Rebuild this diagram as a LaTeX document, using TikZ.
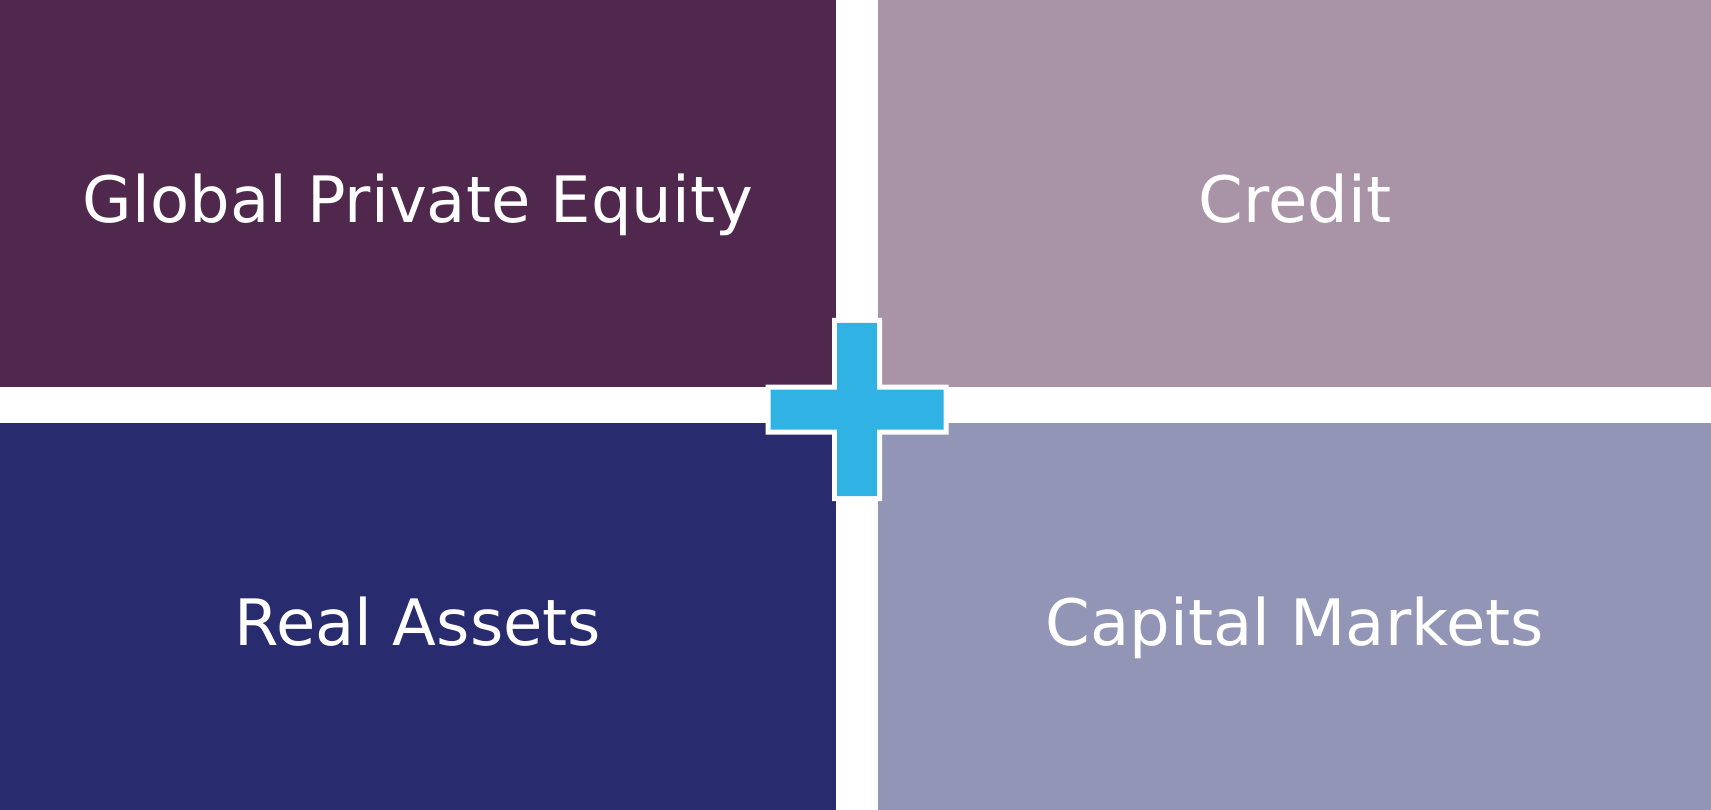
\documentclass[tikz,border=0pt]{standalone}
\usepackage{fontspec}
\setmainfont{DejaVu Sans}
\usetikzlibrary{positioning}
\definecolor{equity}{HTML}{50284E}
\definecolor{credit}{HTML}{A994A7}
\definecolor{assets}{HTML}{282B6E}
\definecolor{markets}{HTML}{9395B7}
\definecolor{plus}{HTML}{31B2E5}

\begin{document}
\begin{tikzpicture}[x=1pt,y=-1pt,
  box/.style={inner sep=0pt,minimum width=836pt,minimum height=387pt,text=white,
    font=\fontsize{64}{64}\selectfont,text height=58pt,text depth=0pt}]
\useasboundingbox (0,0) rectangle (1711,810);
\node[box,fill=equity] at(418,193.5)(gpe){Global Private Equity};
\node[box,fill=credit,minimum width=833pt,right=42pt of gpe](cr){Credit};
\node[box,fill=assets,below=36pt of gpe](ra){Real Assets};
\node[box,fill=markets,minimum width=833pt,right=42pt of ra](cm){Capital Markets};
\coordinate (cross) at(857,409.5);
\foreach\c/\a/\w in{white/91.5/25,plus/86.5/20}{
    \fill[\c]([shift={(-\w,-\a)}]cross) rectangle ([shift={(\w,\a)}]cross)
        ([shift={(-\a,-\w)}]cross) rectangle ([shift={(\a,\w)}]cross);
}
\end{tikzpicture}
\end{document}
